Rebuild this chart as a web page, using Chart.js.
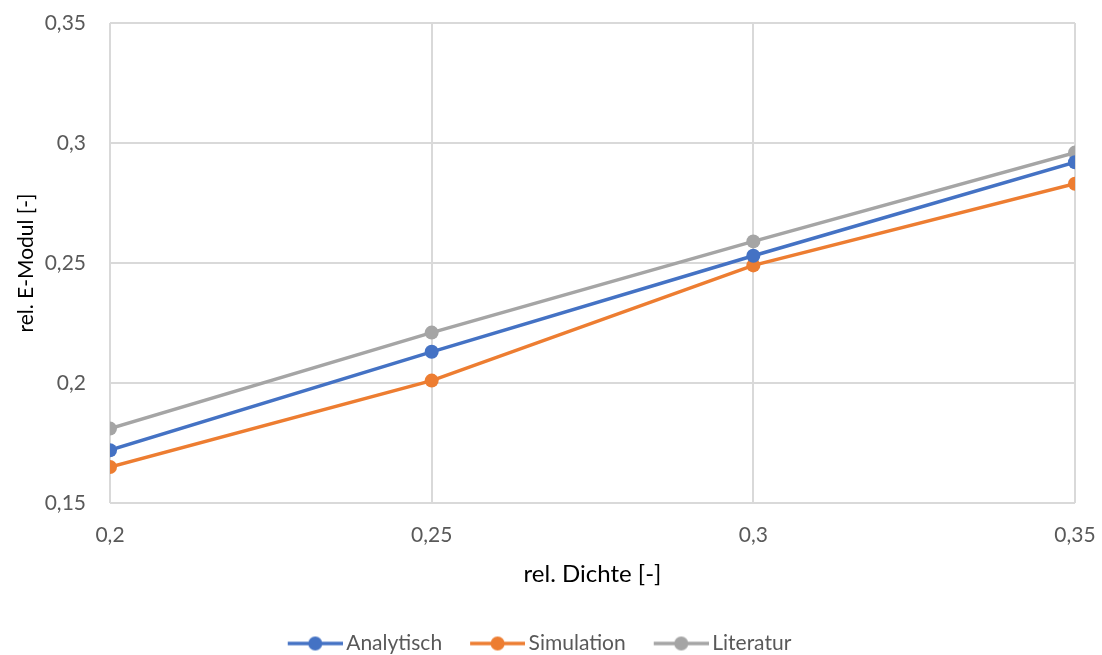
<!DOCTYPE html>
<html>
<head>
<meta charset="utf-8">
<script src="https://cdn.jsdelivr.net/npm/chart.js@4"></script>
<style>
  html, body { margin: 0; padding: 0; background: #ffffff; }
  #wrap { width: 1102px; height: 655px; position: relative; }
</style>
</head>
<body>
<div id="wrap"><canvas id="c" width="1102" height="655"></canvas></div>
<script>
const xValues = [0.2, 0.25, 0.3, 0.35];
const analytisch = [0.172, 0.213, 0.253, 0.292];
const simulation = [0.165, 0.201, 0.249, 0.283];
const literatur = [0.181, 0.221, 0.259, 0.296];
const seriesNames = ['Analytisch', 'Simulation', 'Literatur'];
const seriesColors = ['#4472C4', '#ED7D31', '#A5A5A5'];
const xTitle = 'rel. Dichte [-]';
const yTitle = 'rel. E-Modul [-]';

const FONT = 'Lato, "Open Sans", sans-serif';
const TXT = '#595959';

function legendIcon(color) {
  const cv = document.createElement('canvas');
  cv.width = 80; cv.height = 18;
  const g = cv.getContext('2d');
  g.strokeStyle = color; g.lineWidth = 3.5;
  g.beginPath(); g.moveTo(25, 9); g.lineTo(80, 9); g.stroke();
  g.fillStyle = color;
  g.beginPath(); g.arc(52.5, 9, 7, 0, Math.PI * 2); g.fill();
  return cv;
}

const allSeries = [analytisch, simulation, literatur];
const icons = seriesColors.map(c => legendIcon(c));
const datasets = allSeries.map((vals, i) => ({
  label: seriesNames[i],
  data: xValues.map((x, j) => ({ x: x, y: vals[j] })),
  borderColor: seriesColors[i],
  backgroundColor: seriesColors[i],
  borderWidth: 3.5,
  pointRadius: 7,
  pointHoverRadius: 7,
  pointBorderWidth: 0,
  pointStyle: 'circle',
  tension: 0
}));

const fmt = v => String(Math.round(v * 100) / 100).replace('.', ',');

const legendShift = {
  id: 'legendShift',
  afterLayout(chart) {
    if (chart.legend) { chart.legend.left -= 14; chart.legend.right -= 14; }
  }
};

new Chart(document.getElementById('c'), {
  type: 'line',
  data: { datasets },
  plugins: [legendShift],
  options: {
    responsive: false,
    animation: false,
    layout: { padding: { left: 14, right: 27, top: 23, bottom: -9 } },
    plugins: {
      tooltip: { enabled: false },
      legend: {
        position: 'bottom',
        labels: {
          usePointStyle: true,
          pointStyleWidth: 66,
          padding: 10,
          color: TXT,
          font: { family: FONT, size: 21 },
          generateLabels: (chart) => chart.data.datasets.map((d, i) => ({
            text: d.label,
            fillStyle: d.backgroundColor,
            strokeStyle: d.borderColor,
            lineWidth: 0,
            pointStyle: icons[i],
            datasetIndex: i,
            hidden: false,
            fontColor: TXT
          }))
        }
      }
    },
    scales: {
      x: {
        type: 'linear',
        min: 0.2, max: 0.35,
        ticks: { stepSize: 0.05, callback: fmt, color: TXT, font: { family: FONT, size: 21 }, padding: 0 },
        grid: { color: '#D9D9D9', lineWidth: 2, drawTicks: true, tickLength: 20, tickColor: 'rgba(0,0,0,0)' },
        border: { display: false },
        title: { display: true, text: xTitle, color: '#000000', font: { family: FONT, size: 24 }, padding: { top: 8, bottom: 34 } },
        afterFit: s => { s.height = 120; }
      },
      y: {
        min: 0.15, max: 0.35,
        ticks: { stepSize: 0.05, callback: fmt, color: TXT, font: { family: FONT, size: 21 }, padding: 0 },
        grid: { color: '#D9D9D9', lineWidth: 2, drawTicks: true, tickLength: 24, tickColor: 'rgba(0,0,0,0)' },
        border: { display: false },
        title: { display: true, text: yTitle, color: '#000000', font: { family: FONT, size: 21 }, padding: 0 },
        afterFit: s => { s.width = 96; }
      }
    }
  }
});
</script>
</body>
</html>
